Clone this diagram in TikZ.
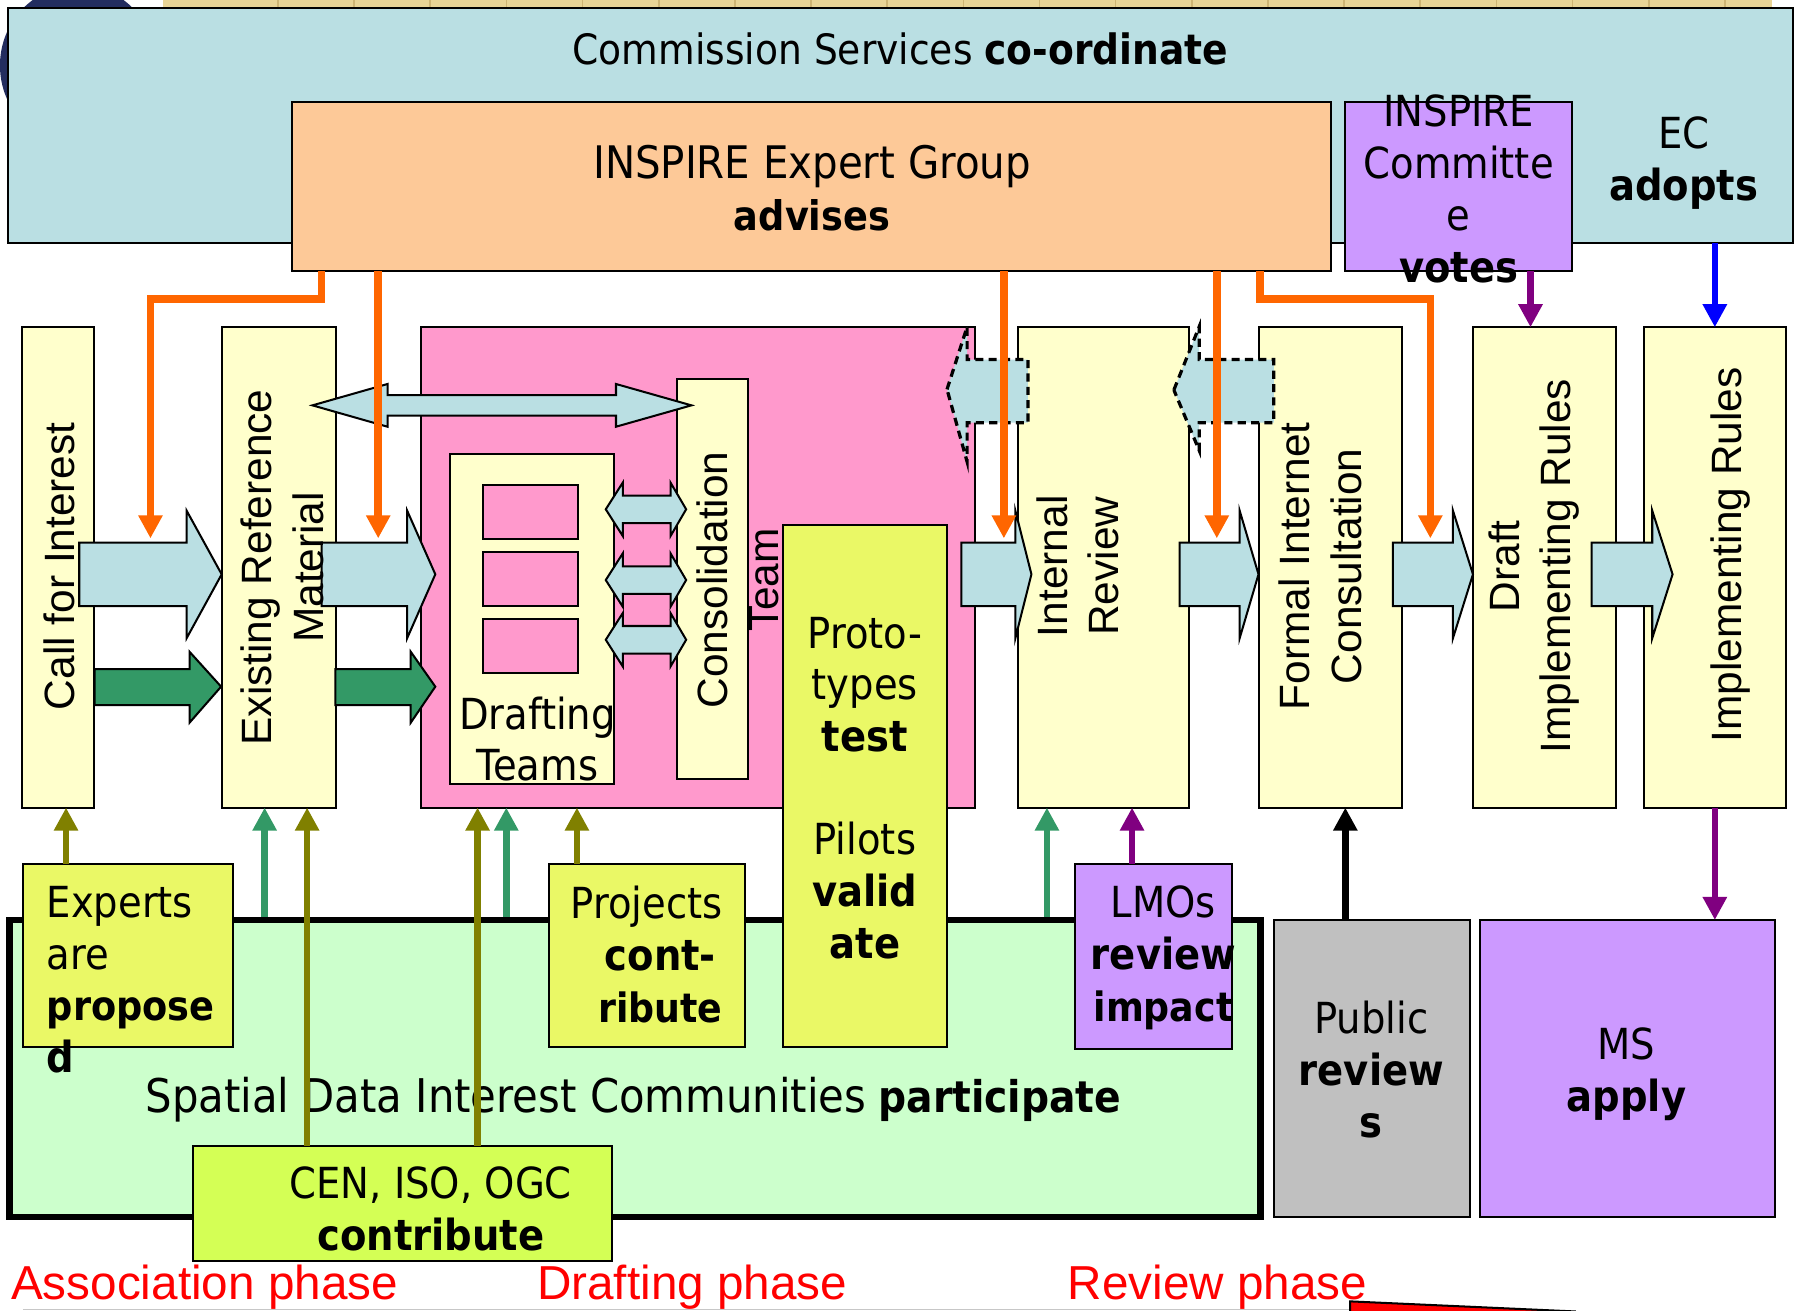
\documentclass[tikz,border=0pt]{standalone}
\usepackage{fontspec}
\setmainfont{DejaVu Sans Condensed}[BoldFont={DejaVu Sans Condensed Bold}]
\newfontfamily\arialf{Liberation Sans}
\usetikzlibrary{arrows.meta}
\definecolor{csblue}{RGB}{186,223,227}
\definecolor{peach}{RGB}{253,201,152}
\definecolor{lilac}{RGB}{204,153,255}
\definecolor{paley}{RGB}{255,255,204}
\definecolor{pinkd}{RGB}{255,153,204}
\definecolor{limey}{RGB}{234,248,102}
\definecolor{limeb}{RGB}{212,255,85}
\definecolor{mintg}{RGB}{204,255,204}
\definecolor{grayb}{RGB}{192,192,192}
\definecolor{greena}{RGB}{51,153,102}
\definecolor{olivea}{RGB}{128,128,0}
\definecolor{orangea}{RGB}{255,102,0}
\definecolor{purplea}{RGB}{128,0,128}
\definecolor{navyb}{RGB}{35,45,95}
\definecolor{tanc}{RGB}{232,212,150}
\definecolor{tanline}{RGB}{205,180,115}
\begin{document}
\begin{tikzpicture}[x=0.01cm, y=-0.01cm,
  box/.style={draw=black, line width=0.5pt, inner sep=0pt, outer sep=0pt},
  htxt/.style={font=\fontsize{10.6}{12.8}\selectfont, align=center, inner sep=0pt},
  vtxt/.style={font=\arialf\fontsize{10.5}{12.8}\selectfont, align=center, inner sep=0pt, rotate=90},
  blockarrow/.style={draw=black, line width=0.5pt, line join=miter},
  dasharrow/.style={draw=black, line width=0.8pt, dash pattern=on 2pt off 1.3pt, fill=csblue},
  orangearrow/.style={draw=orangea, line width=1.9pt, -{Triangle[length=5.7pt,width=5.7pt]}},
  uparrow/.style={line width=1.6pt, -{Triangle[length=5.7pt,width=5.7pt]}},
  phase/.style={font=\arialf\fontsize{11.8}{14}\selectfont, text=red, anchor=base west, inner sep=0pt}
]
\useasboundingbox (0,0) rectangle (1568,1141);

% background fragments
\fill[navyb] (68,57) ellipse [x radius=0.68cm, y radius=0.70cm];
\fill[tanc] (142,-2) rectangle (1543,8);
\foreach \i in {0,...,19} \draw[tanline, line width=0.4pt] ({242+66.3*\i},-2) -- ++(0,10);

% top boxes
\node[box, fill=csblue, minimum width=15.533cm, minimum height=2.04cm] (commission) at (784,109.3) {};
\node[htxt, font=\fontsize{10.35}{12.8}\selectfont] (cstext) at (784,43) {Commission Services \textbf{co-ordinate}};
\node[box, fill=peach, minimum width=9.035cm, minimum height=1.472cm] (expert) at (706.65,162.1) {};
\node[htxt] (experttext) at (707,164) {{\fontsize{11.1}{12.8}\selectfont INSPIRE Expert Group}\\{\fontsize{10.1}{12.8}\selectfont\textbf{advises}}};
\node[box, fill=lilac, minimum width=1.973cm, minimum height=1.472cm] (committee) at (1269.65,162.1) {};
\node[htxt] (committeetext) at (1270,164.5) {INSPIRE\\Committe\\e\\\textbf{votes}};
\node[htxt] (ectext) at (1466,142) {EC\\\textbf{adopts}};

% process boxes
\node[box, fill=paley, minimum width=0.622cm, minimum height=4.18cm] (call) at (50.5,494) {};
\node[box, fill=paley, minimum width=0.991cm, minimum height=4.18cm] (existing) at (242.75,494) {};
\node[box, fill=pinkd, minimum width=4.825cm, minimum height=4.18cm] (pink) at (607.75,494) {};
\node[box, fill=paley, minimum width=1.434cm, minimum height=2.872cm] (drafting) at (463.1,539.2) {};
\foreach \c/\n in {446/r1,504/r2,562/r3}
  \node[box, fill=pinkd, minimum width=0.825cm, minimum height=0.47cm] (\n) at (461.75,\c) {};
\node[htxt] (draftingtext) at (468,643.5) {Drafting\\Teams};
\node[box, fill=paley, minimum width=0.618cm, minimum height=3.482cm] (consol) at (620.5,504.1) {};
\node[box, fill=paley, minimum width=1.49cm, minimum height=4.18cm] (internal) at (960.5,494) {};
\node[box, fill=paley, minimum width=1.245cm, minimum height=4.18cm] (formal) at (1158.75,494) {};
\node[box, fill=paley, minimum width=1.247cm, minimum height=4.18cm] (draft) at (1344.65,494) {};
\node[box, fill=paley, minimum width=1.243cm, minimum height=4.18cm] (ir) at (1493.15,494) {};

% bottom region
\node[draw=black, line width=1.7pt, fill=mintg, inner sep=0pt, minimum width=10.883cm, minimum height=2.585cm] (sdic) at (552.65,930.25) {};
\node[htxt] (sdictext) at (551.5,957) {{\fontsize{11.5}{12.8}\selectfont Spatial Data Interest Communities} {\fontsize{10.8}{12.8}\selectfont\textbf{participate}}};
\node[box, fill=limey, minimum width=1.43cm, minimum height=4.539cm] (proto) at (753.2,684.35) {};
\node[htxt] (prototext) at (753,686) {Proto-\\types\\\textbf{test}\\[12.8pt]Pilots\\\textbf{valid}\\\textbf{ate}};
\node[box, fill=limey, minimum width=1.824cm, minimum height=1.596cm] (experts) at (111.2,832) {};
\node[htxt, align=left, anchor=west] (expertstext) at (40,853) {Experts\\are\\{\fontsize{10.1}{12.8}\selectfont\textbf{propose}}\\\textbf{d}};
\node[box, fill=limey, minimum width=1.704cm, minimum height=1.596cm] (projects) at (563.5,832) {};
\node[htxt] (projectstext) at (569,831) {Projects\hspace*{3.4pt}\\\hspace*{3.4pt}\textbf{cont-}\\\hspace*{3.4pt}{\fontsize{10}{12.8}\selectfont\textbf{ribute}}};
\node[box, fill=lilac, minimum width=1.366cm, minimum height=1.614cm] (lmos) at (1004.5,832.9) {};
\node[htxt] (lmostext) at (1013,834) {LMOs\\\textbf{review}\\{\fontsize{10}{12.8}\selectfont\textbf{impact}}};
\node[box, fill=limeb, minimum width=3.644cm, minimum height=1.003cm] (cen) at (350.6,1047.65) {};
\node[htxt] (centext) at (375,1052.5) {CEN, ISO, OGC\\\textbf{contribute}};
\node[box, fill=grayb, minimum width=1.706cm, minimum height=2.583cm] (public) at (1194.5,930.15) {};
\node[htxt] (publictext) at (1194,931) {Public\\\textbf{review}\\\textbf{s}};
\node[box, fill=lilac, minimum width=2.562cm, minimum height=2.583cm] (ms) at (1417,930.15) {};
\node[htxt] (mstext) at (1416,935.5) {MS\\\textbf{apply}};

% block arrows (right, blue)
\filldraw[blockarrow, fill=csblue] (69,472.5) -- (162.5,472.5) -- (162.5,444.6) -- (193,500) -- (162.5,555.6) -- (162.5,527.6) -- (69,527.6) -- cycle;
\filldraw[blockarrow, fill=csblue] (280,472.5) -- (354.5,472.5) -- (354.5,444.6) -- (379,500) -- (354.5,555.6) -- (354.5,527.6) -- (280,527.6) -- cycle;
\filldraw[blockarrow, fill=csblue] (837,472.5) -- (884,472.5) -- (884,444.6) -- (898,500) -- (884,555.6) -- (884,527.6) -- (837,527.6) -- cycle;
\filldraw[blockarrow, fill=csblue] (1027,472.5) -- (1079.3,472.5) -- (1079.3,444.6) -- (1095.7,500) -- (1079.3,555.6) -- (1079.3,527.6) -- (1027,527.6) -- cycle;
\filldraw[blockarrow, fill=csblue] (1212.6,472.5) -- (1265,472.5) -- (1265,444.6) -- (1282.4,500) -- (1265,555.6) -- (1265,527.6) -- (1212.6,527.6) -- cycle;
\filldraw[blockarrow, fill=csblue] (1385.8,472.5) -- (1438.5,472.5) -- (1438.5,444.6) -- (1456.2,500) -- (1438.5,555.6) -- (1438.5,527.6) -- (1385.8,527.6) -- cycle;
% block arrows (right, green)
\filldraw[blockarrow, fill=greena] (82.4,582.5) -- (165,582.5) -- (165,567.4) -- (192.5,597.8) -- (165,629.2) -- (165,613.8) -- (82.4,613.8) -- cycle;
\filldraw[blockarrow, fill=greena] (292,582.5) -- (357.6,582.5) -- (357.6,567.4) -- (379,597.8) -- (357.6,629.2) -- (357.6,613.8) -- (292,613.8) -- cycle;
% big double arrow
\filldraw[blockarrow, fill=csblue] (272,352.9) -- (337.4,334.3) -- (337.4,343.9) -- (536.3,343.9) -- (536.3,334.3) -- (602,352.9) -- (536.3,371.5) -- (536.3,361.9) -- (337.4,361.9) -- (337.4,371.5) -- cycle;
% small double arrows
\foreach \c in {443.4,505,557}
  \filldraw[blockarrow, fill=csblue] (527.4,\c) -- (542.2,{\c-23.25}) -- (542.2,{\c-12}) -- (583.8,{\c-12}) -- (583.8,{\c-23.25}) -- (597.4,\c) -- (583.8,{\c+23.25}) -- (583.8,{\c+12}) -- (542.2,{\c+12}) -- (542.2,{\c+23.25}) -- cycle;
% dashed left arrows
\filldraw[dasharrow] (824.5,339) -- (842,284.5) -- (842,313) -- (895,313) -- (895,368) -- (842,368) -- (842,402) -- cycle;
\filldraw[dasharrow] (1022,339.5) -- (1044,284.5) -- (1044,313) -- (1109,313) -- (1109,368) -- (1044,368) -- (1044,392) -- cycle;

% rotated texts
\node[vtxt] (calltext) at (52,493) {Call for Interest};
\node[vtxt] (existingtext) at (246,494) {Existing Reference\\Material};
\node[vtxt] (consoltext) at (642.5,505) {Consolidation\\Team};
\node[vtxt] (internaltext) at (938.5,493) {Internal\\Review};
\node[vtxt] (formaltext) at (1149.5,493) {Formal Internet\\Consultation};
\node[vtxt] (drafttext) at (1335.5,493) {Draft\\Implementing Rules};
\node[vtxt] (irtext) at (1507,483) {Implementing Rules};

% upward connectors
\draw[uparrow, olivea] (57.5,0 |- experts.north) -- (57.5,0 |- call.south);
\draw[uparrow, greena] (230.4,0 |- sdic.north) -- (230.4,0 |- existing.south);
\draw[uparrow, olivea] (267.4,0 |- cen.north) -- (267.4,0 |- existing.south);
\draw[uparrow, olivea] (415.8,0 |- cen.north) -- (415.8,0 |- pink.south);
\draw[uparrow, greena] (440.8,0 |- sdic.north) -- (440.8,0 |- pink.south);
\draw[uparrow, olivea] (502.3,0 |- projects.north) -- (502.3,0 |- pink.south);
\draw[uparrow, greena] (911.5,0 |- sdic.north) -- (911.5,0 |- internal.south);
\draw[uparrow, purplea] (985.6,0 |- lmos.north) -- (985.6,0 |- internal.south);
\draw[uparrow, black] (1171.3,0 |- public.north) -- (1171.3,0 |- formal.south);
\draw[uparrow, purplea] (1493,0 |- ir.south) -- (1493,0 |- ms.north);
\draw[uparrow, purplea] (1332.5,0 |- committee.south) -- (1332.5,0 |- draft.north);
\draw[uparrow, blue] (1493,0 |- commission.south) -- (1493,0 |- ir.north);

% orange connectors
\coordinate (otA) at (131,468.7);
\coordinate (otB) at (329.3,468.7);
\coordinate (otC) at (874,468.7);
\coordinate (otD) at (1059.4,468.7);
\coordinate (otE) at (1245.3,468.7);
\draw[orangearrow] (280,0 |- expert.south) -- (280,260.3) -- (131,260.3) -- (otA);
\draw[orangearrow] (329.3,0 |- expert.south) -- (otB);
\draw[orangearrow] (874,0 |- expert.south) -- (otC);
\draw[orangearrow] (1059.4,0 |- expert.south) -- (otD);
\draw[orangearrow] (1096.8,0 |- expert.south) -- (1096.8,260.3) -- (1245.3,260.3) -- (otE);

% phase labels
\node[phase] (assoc) at (9,1131.5) {Association phase};
\node[phase] (draftph) at (467,1131.5) {Drafting phase};
\node[phase] (reviewph) at (929,1131.5) {Review phase};
\draw[black!22, line width=0.4pt] (20,1140) -- (1175.5,1140);
\fill[red] (1175.5,1133) -- (1372,1141.8) -- (1175.5,1141.8) -- cycle;
\draw[black, line width=0.5pt] (1175.5,1142) -- (1175.5,1133) -- (1372,1141.8);
\end{tikzpicture}
\end{document}
